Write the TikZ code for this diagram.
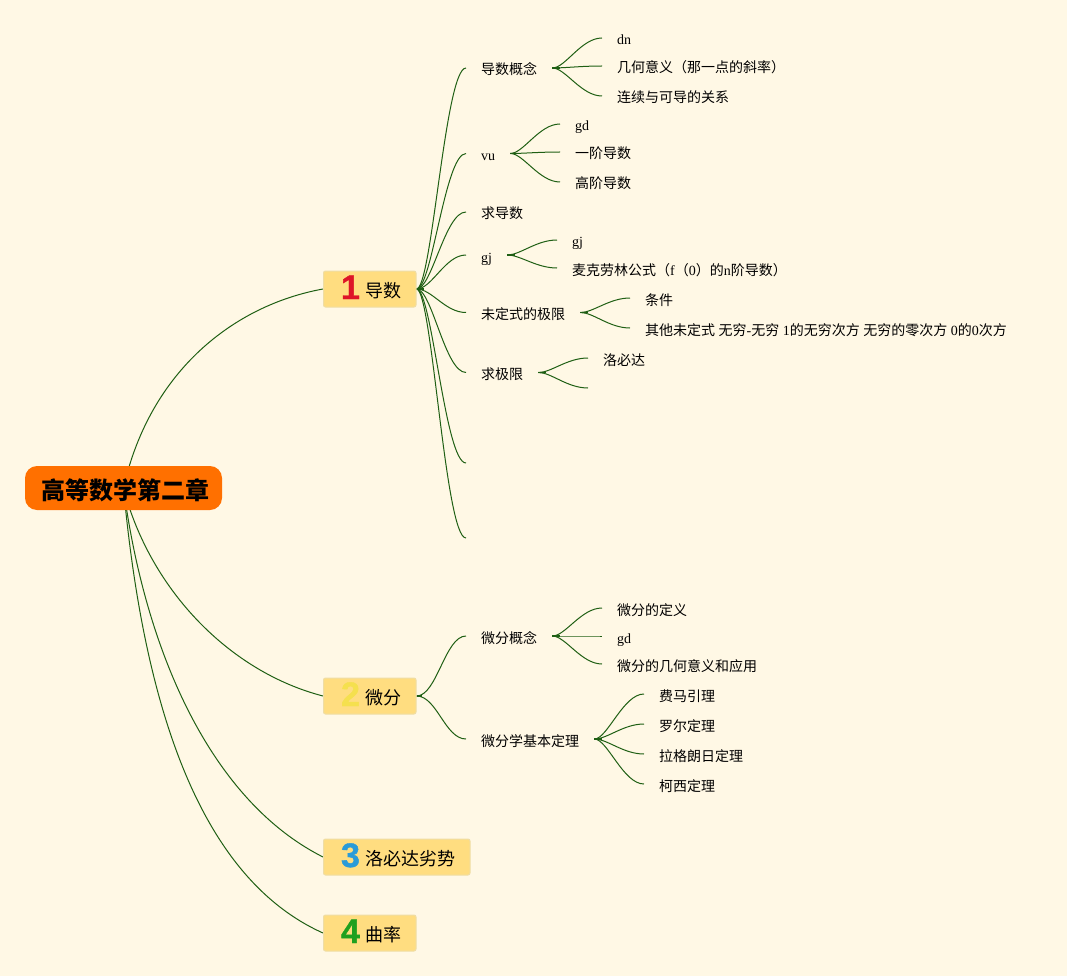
\documentclass[tikz,border=0pt]{standalone}
\usepackage{fontspec}
\setmainfont{Liberation Serif}
\newfontfamily\cjk{Noto Sans CJK SC}
\newfontfamily\numf{Liberation Sans}[UprightFont=* Bold,FakeBold=1.2]
\usetikzlibrary{backgrounds,calc}
\definecolor{pagebg}{HTML}{FFF8E5}
\definecolor{linkc}{HTML}{1F5F14}
\definecolor{boxc}{HTML}{FFDD80}
\definecolor{boxe}{HTML}{EFDDA5}
\definecolor{rootc}{HTML}{FF7000}
\definecolor{numa}{HTML}{DE1528}
\definecolor{numb}{HTML}{F5E04E}
\definecolor{numc}{HTML}{2A9BD8}
\definecolor{numd}{HTML}{1FA01F}
\newcommand{\zh}[1]{{\cjk #1}}
\newcommand{\boxtext}[3]{\hspace*{17pt}\makebox[20pt]{\raisebox{-2pt}{\color{#1}\fontsize{34}{34}\numf #2}}\hspace{5pt}{\fontsize{18}{18}\cjk #3}\hspace*{14.5pt}}
\tikzset{
  linkline/.style={draw=linkc,line width=1pt},
  stubline/.style={draw=linkc,line width=1.7pt},
  topic/.style={anchor=west,inner xsep=15pt,inner ysep=0pt,text height=15pt,text depth=1pt,font=\fontsize{14}{14}\selectfont},
  mainbox/.style={anchor=west,fill=boxc,draw=boxe,line width=1pt,rounded corners=2pt,inner xsep=0pt,inner ysep=0pt,minimum height=36pt,text height=20pt,text depth=4pt},
  rootbox/.style={fill=rootc,rounded corners=12pt,inner sep=0pt,minimum width=197pt,minimum height=44pt,text height=26pt,text depth=4pt,font=\fontsize{24}{24}\selectfont}
}
\newcommand{\branch}[3]{%
  \draw[linkline] (#1.east) .. controls ++(#3,0) and ($(#2.west)+(-#3*1.6,0)$) .. (#2.west);
  \draw[stubline] (#1.east) -- ++(8,0);}
\begin{document}
\begin{tikzpicture}[x=1pt,y=-1pt]
\useasboundingbox (0,0) rectangle (1067,976);
\node[rootbox] (root) at (123.5,488) {\hspace*{3.5pt}{\cjk\bfseries 高等数学第二章}};
\node[mainbox] (b1) at (323,289) {\boxtext{numa}{1}{导数}};
\node[mainbox] (b2) at (323,696) {\boxtext{numb}{2}{微分}};
\node[mainbox] (b3) at (323,857) {\boxtext{numc}{3}{洛必达劣势}};
\node[mainbox] (b4) at (323,933) {\boxtext{numd}{4}{曲率}};

\node[topic] (a1) at (466,68) {\zh{导数概念}};
\node[topic] (a2) at (466,153.5) {vu};
\node[topic] (a3) at (466,212) {\zh{求导数}};
\node[topic] (a4) at (466,255) {gj};
\node[topic] (a5) at (466,312.5) {\zh{未定式的极限}};
\node[topic] (a6) at (466,372.5) {\zh{求极限}};
\coordinate (a7) at (466,463);
\coordinate (a8) at (466,538);

\node[topic] (a11) at (602,38) {dn};
\node[topic] (a12) at (602,66) {\zh{几何意义（那一点的斜率）}};
\node[topic] (a13) at (602,96) {\zh{连续与可导的关系}};
\node[topic] (a21) at (560,124) {gd};
\node[topic] (a22) at (560,152) {\zh{一阶导数}};
\node[topic] (a23) at (560,182) {\zh{高阶导数}};
\node[topic] (a41) at (557,240) {gj};
\node[topic] (a42) at (557,268) {\zh{麦克劳林公式（}f\zh{（}0\zh{）的}n\zh{阶导数）}};
\node[topic] (a51) at (630,298) {\zh{条件}};
\node[topic] (a52) at (630,328) {\zh{其他未定式}\hspace{3.5pt}\zh{无穷}-\zh{无穷}\hspace{3.5pt}1\zh{的无穷次方}\hspace{3.5pt}\zh{无穷的零次方}\hspace{3.5pt}0\zh{的}0\zh{次方}};
\node[topic] (a61) at (588,358) {\zh{洛必达}};
\coordinate (a62) at (588,388);

\node[topic] (c1) at (466,636) {\zh{微分概念}};
\node[topic] (c2) at (466,739) {\zh{微分学基本定理}};
\node[topic] (c11) at (602,608) {\zh{微分的定义}};
\node[topic] (c12) at (602,636) {gd};
\node[topic] (c13) at (602,664) {\zh{微分的几何意义和应用}};
\node[topic] (c21) at (644,694) {\zh{费马引理}};
\node[topic] (c22) at (644,724) {\zh{罗尔定理}};
\node[topic] (c23) at (644,754) {\zh{拉格朗日定理}};
\node[topic] (c24) at (644,784) {\zh{柯西定理}};

\begin{pgfonlayer}{background}
\fill[pagebg] (0,0) rectangle (1067,976);
\draw[linkline] (root.center) .. controls (150,370) and (235,305) .. (b1.west);
\draw[linkline] (root.center) .. controls (150,590) and (230,672) .. (b2.west);
\draw[linkline] (root.center) .. controls (145,650) and (210,800) .. (b3.west);
\draw[linkline] (root.center) .. controls (145,720) and (205,880) .. (b4.west);

\draw[linkline] (b1.east) .. controls (432,289) and (445,68) .. (a1.west);
\draw[linkline] (b1.east) .. controls (432,289) and (445,153.5) .. (a2.west);
\draw[linkline] (b1.east) .. controls (432,289) and (445,212) .. (a3.west);
\draw[linkline] (b1.east) .. controls (432,289) and (445,255) .. (a4.west);
\draw[linkline] (b1.east) .. controls (432,289) and (445,312.5) .. (a5.west);
\draw[linkline] (b1.east) .. controls (432,289) and (445,372.5) .. (a6.west);
\draw[linkline] (b1.east) .. controls (432,289) and (445,463) .. (a7);
\draw[linkline] (b1.east) .. controls (432,289) and (445,538) .. (a8);
\draw[stubline] (b1.east) -- ++(7,0);

\draw[linkline] (b2.east) .. controls (437,696) and (445,636) .. (c1.west);
\draw[linkline] (b2.east) .. controls (437,696) and (445,739) .. (c2.west);
\draw[stubline] (b2.east) -- ++(5,0);

\branch{a1}{a11}{13}
\branch{a1}{a12}{13}
\branch{a1}{a13}{13}
\branch{a2}{a21}{13}
\branch{a2}{a22}{13}
\branch{a2}{a23}{13}
\branch{a4}{a41}{13}
\branch{a4}{a42}{13}
\branch{a5}{a51}{13}
\branch{a5}{a52}{13}
\draw[linkline] (a6.east) .. controls ++(13,0) and (567,358) .. (a61.west);
\draw[linkline] (a6.east) .. controls ++(13,0) and (567,388) .. (a62);
\draw[stubline] (a6.east) -- ++(8,0);
\branch{c1}{c11}{13}
\branch{c1}{c12}{13}
\branch{c1}{c13}{13}
\branch{c2}{c21}{13}
\branch{c2}{c22}{13}
\branch{c2}{c23}{13}
\branch{c2}{c24}{13}
\end{pgfonlayer}
\end{tikzpicture}
\end{document}
